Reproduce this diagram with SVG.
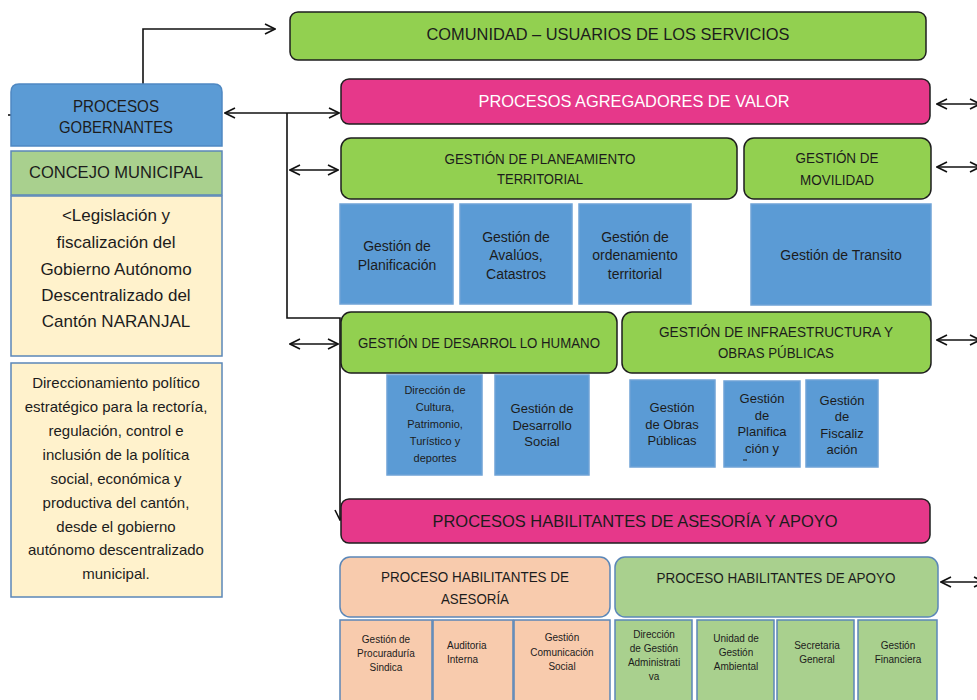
<svg xmlns="http://www.w3.org/2000/svg" width="977" height="700" viewBox="0 0 977 700">
<defs>
<marker id="ah" viewBox="0 0 12 12" refX="11" refY="6" markerWidth="12" markerHeight="12" markerUnits="userSpaceOnUse" orient="auto-start-reverse">
<path d="M1,1 L11,6 L1,11" fill="none" stroke="#111" stroke-width="1.6"/>
</marker>
<style>
text{font-family:"Liberation Sans",Arial,sans-serif;fill:#1c1c1c;text-anchor:middle}
.g{fill:#92d050;stroke:#1e1e1e;stroke-width:1.5}
.p{fill:#e6388a;stroke:#1e1e1e;stroke-width:1.5}
.b{fill:#5b9bd5;stroke:#6fa3d6;stroke-width:1.5}
.lg{fill:#a9d08e;stroke:#5b87b8;stroke-width:1.5}
.pe{fill:#f8cbad;stroke:#5b87b8;stroke-width:1.5}
.y{fill:#fff2cc;stroke:#5b87b8;stroke-width:1.5}
.c{fill:none;stroke:#111;stroke-width:1.6}
.t17{font-size:17px}
.t15{font-size:15px}
.t14{font-size:14px}
.t13{font-size:13px}
.t11{font-size:11px}
.t10{font-size:10px}
</style>
</defs>
<g id="connectors">
<path class="c" d="M143,84 V29 H275" marker-end="url(#ah)"/>
<path class="c" d="M225,113 H339" marker-start="url(#ah)" marker-end="url(#ah)"/>
<path class="c" d="M287,113 V318 H340 V520" marker-end="url(#ah)"/>
<path class="c" d="M290,170 H338" marker-start="url(#ah)" marker-end="url(#ah)"/>
<path class="c" d="M290,344 H338" marker-start="url(#ah)" marker-end="url(#ah)"/>
<path class="c" d="M937,104 H980" marker-start="url(#ah)" marker-end="url(#ah)"/>
<path class="c" d="M937,167 H980" marker-start="url(#ah)" marker-end="url(#ah)"/>
<path class="c" d="M937,340 H980" marker-start="url(#ah)" marker-end="url(#ah)"/>
<path class="c" d="M941,582 H984" marker-start="url(#ah)" marker-end="url(#ah)"/>
<path class="c" d="M8,115 H11"/>
</g>
<g id="gobernantes">
<path d="M11,146 V92 Q11,84 19,84 H214 Q222,84 222,92 V146 Z" fill="#5b9bd5" stroke="#4f88c2" stroke-width="1.5"/>
<text class="t17" x="116" y="112" textLength="86" lengthAdjust="spacingAndGlyphs">PROCESOS</text>
<text class="t17" x="116" y="133" textLength="114" lengthAdjust="spacingAndGlyphs">GOBERNANTES</text>
</g>
<g id="concejo">
<rect class="lg" x="11" y="151" width="211" height="44"/>
<text class="t17" x="116" y="178" textLength="174" lengthAdjust="spacingAndGlyphs">CONCEJO MUNICIPAL</text>
</g>
<g id="legislacion">
<rect class="y" x="11" y="196" width="211" height="160"/>
<text class="t17" x="116" y="221">&lt;Legislación y</text>
<text class="t17" x="116" y="248">fiscalización del</text>
<text class="t17" x="116" y="275">Gobierno Autónomo</text>
<text class="t17" x="116" y="301">Descentralizado del</text>
<text class="t17" x="116" y="327">Cantón NARANJAL</text>
</g>
<g id="direccionamiento">
<rect class="y" x="11" y="363" width="211" height="234"/>
<text class="t15" x="116" y="388">Direccionamiento político</text>
<text class="t15" x="116" y="412">estratégico para la rectoría,</text>
<text class="t15" x="116" y="436">regulación, control e</text>
<text class="t15" x="116" y="460">inclusión de la política</text>
<text class="t15" x="116" y="484">social, económica y</text>
<text class="t15" x="116" y="508">productiva del cantón,</text>
<text class="t15" x="116" y="532">desde el gobierno</text>
<text class="t15" x="116" y="555">autónomo descentralizado</text>
<text class="t15" x="116" y="579">municipal.</text>
</g>
<g id="comunidad">
<rect class="g" x="290" y="12" width="636" height="48" rx="8"/>
<text class="t17" x="608" y="40" textLength="363" lengthAdjust="spacingAndGlyphs">COMUNIDAD – USUARIOS DE LOS SERVICIOS</text>
</g>
<g id="agregadores">
<rect class="p" x="341" y="79" width="589" height="45" rx="8"/>
<text class="t17" x="634" y="107" style="fill:#fff" textLength="311" lengthAdjust="spacingAndGlyphs">PROCESOS AGREGADORES DE VALOR</text>
</g>
<g id="planeamiento">
<rect class="g" x="341" y="138" width="396" height="61" rx="10"/>
<text class="t15" x="540" y="164" textLength="191" lengthAdjust="spacingAndGlyphs">GESTIÓN DE PLANEAMIENTO</text>
<text class="t15" x="540" y="184" textLength="86" lengthAdjust="spacingAndGlyphs">TERRITORIAL</text>
</g>
<g id="movilidad">
<rect class="g" x="744" y="138" width="187" height="61" rx="10"/>
<text class="t15" x="837" y="163" textLength="83" lengthAdjust="spacingAndGlyphs">GESTIÓN DE</text>
<text class="t15" x="837" y="185" textLength="74" lengthAdjust="spacingAndGlyphs">MOVILIDAD</text>
</g>
<g id="planificacion">
<rect class="b" x="340" y="204" width="113" height="100"/>
<text class="t14" x="397" y="251">Gestión de</text>
<text class="t14" x="397" y="270">Planificación</text>
</g>
<g id="avaluos">
<rect class="b" x="460" y="204" width="112" height="100"/>
<text class="t14" x="516" y="242">Gestión de</text>
<text class="t14" x="516" y="260">Avalúos,</text>
<text class="t14" x="516" y="279">Catastros</text>
</g>
<g id="ordenamiento">
<rect class="b" x="579" y="204" width="112" height="100"/>
<text class="t14" x="635" y="242">Gestión de</text>
<text class="t14" x="635" y="260">ordenamiento</text>
<text class="t14" x="635" y="279">territorial</text>
</g>
<g id="transito">
<rect class="b" x="751" y="204" width="180" height="101"/>
<text class="t14" x="841" y="260">Gestión de Transito</text>
</g>
<g id="desarrollo">
<rect class="g" x="341" y="312" width="276" height="61" rx="10"/>
<text class="t15" x="479" y="348" textLength="242" lengthAdjust="spacingAndGlyphs">GESTIÓN DE DESARROL LO HUMANO</text>
</g>
<g id="infraestructura">
<rect class="g" x="622" y="312" width="309" height="61" rx="10"/>
<text class="t15" x="776" y="337" textLength="234" lengthAdjust="spacingAndGlyphs">GESTIÓN DE INFRAESTRUCTURA  Y</text>
<text class="t15" x="776" y="358" textLength="116" lengthAdjust="spacingAndGlyphs">OBRAS PÚBLICAS</text>
</g>
<g id="cultura">
<rect class="b" x="387" y="375" width="95" height="100"/>
<text class="t11" x="435" y="394">Dirección de</text>
<text class="t11" x="435" y="411">Cultura,</text>
<text class="t11" x="435" y="428">Patrimonio,</text>
<text class="t11" x="435" y="445">Turístico y</text>
<text class="t11" x="435" y="462">deportes</text>
</g>
<g id="social">
<rect class="b" x="495" y="375" width="94" height="100"/>
<text class="t13" x="542" y="413">Gestión de</text>
<text class="t13" x="542" y="430">Desarrollo</text>
<text class="t13" x="542" y="446">Social</text>
</g>
<g id="obras">
<rect class="b" x="630" y="380" width="85" height="87"/>
<text class="t13" x="672" y="412">Gestión</text>
<text class="t13" x="672" y="429">de Obras</text>
<text class="t13" x="672" y="445">Públicas</text>
</g>
<g id="planificacion2">
<rect class="b" x="724" y="381" width="76" height="86"/>
<text class="t13" x="762" y="403">Gestión</text>
<text class="t13" x="762" y="420">de</text>
<text class="t13" x="762" y="436">Planifica</text>
<text class="t13" x="762" y="453">ción y</text>
<path d="M743,460 H747" stroke="#1c1c1c" stroke-width="1"/>
</g>
<g id="fiscalizacion">
<rect class="b" x="806" y="380" width="72" height="87"/>
<text class="t13" x="842" y="405">Gestión</text>
<text class="t13" x="842" y="421">de</text>
<text class="t13" x="842" y="438">Fiscaliz</text>
<text class="t13" x="842" y="454">ación</text>
</g>
<g id="habilitantes">
<rect class="p" x="341" y="499" width="589" height="44" rx="8"/>
<text class="t17" x="635" y="527" textLength="405" lengthAdjust="spacingAndGlyphs">PROCESOS HABILITANTES DE ASESORÍA Y APOYO</text>
</g>
<g id="asesoria">
<rect class="pe" x="340" y="557" width="270" height="60" rx="10"/>
<text class="t15" x="475" y="582" textLength="188" lengthAdjust="spacingAndGlyphs">PROCESO HABILITANTES DE</text>
<text class="t15" x="475" y="604" textLength="68" lengthAdjust="spacingAndGlyphs">ASESORÍA</text>
</g>
<g id="apoyo">
<rect class="lg" x="615" y="557" width="323" height="60" rx="10"/>
<text class="t15" x="776" y="583" textLength="239" lengthAdjust="spacingAndGlyphs">PROCESO HABILITANTES DE APOYO</text>
</g>
<g id="procuraduria">
<rect class="pe" x="340" y="620" width="92" height="90"/>
<text class="t10" x="386" y="643">Gestión de</text>
<text class="t10" x="386" y="657">Procuraduría</text>
<text class="t10" x="386" y="671">Sindica</text>
</g>
<g id="auditoria">
<rect class="pe" x="433" y="620" width="80" height="90"/>
<text class="t10" x="447" y="649" style="text-anchor:start">Auditoria</text>
<text class="t10" x="447" y="663" style="text-anchor:start">Interna</text>
</g>
<g id="comunicacion">
<rect class="pe" x="514" y="620" width="96" height="90"/>
<text class="t10" x="562" y="641">Gestión</text>
<text class="t10" x="562" y="656">Comunicación</text>
<text class="t10" x="562" y="670">Social</text>
</g>
<g id="administrativa">
<rect class="lg" x="615" y="620" width="77" height="90"/>
<text class="t10" x="654" y="638">Dirección</text>
<text class="t10" x="654" y="652">de Gestión</text>
<text class="t10" x="654" y="666">Administrati</text>
<text class="t10" x="654" y="680">va</text>
</g>
<g id="ambiental">
<rect class="lg" x="697" y="620" width="77" height="90"/>
<text class="t10" x="736" y="642">Unidad de</text>
<text class="t10" x="736" y="656">Gestión</text>
<text class="t10" x="736" y="670">Ambiental</text>
</g>
<g id="secretaria">
<rect class="lg" x="777" y="620" width="77" height="90"/>
<text class="t10" x="817" y="649">Secretaria</text>
<text class="t10" x="817" y="663">General</text>
</g>
<g id="financiera">
<rect class="lg" x="858" y="620" width="79" height="90"/>
<text class="t10" x="898" y="649">Gestión</text>
<text class="t10" x="898" y="663">Financiera</text>
</g>
</svg>
